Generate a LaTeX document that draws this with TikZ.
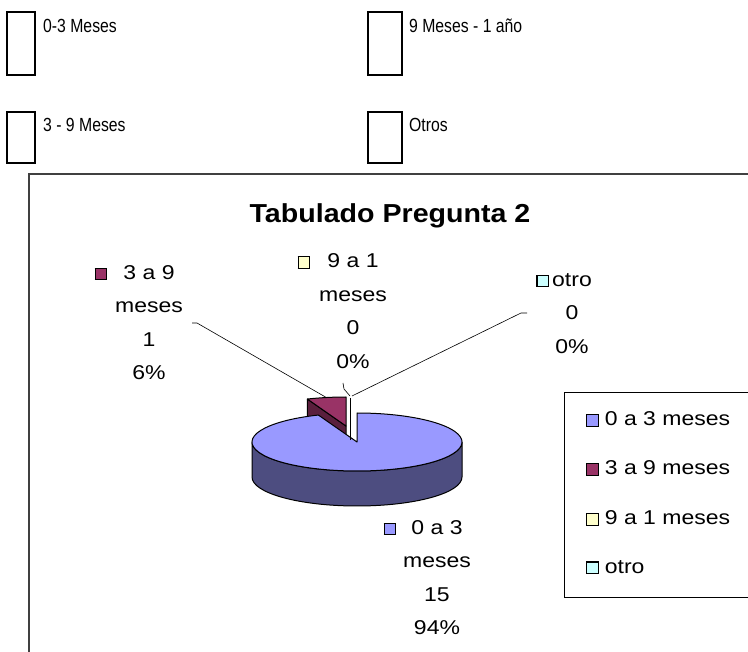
\documentclass[tikz,border=0pt]{standalone}
\usepackage{fontspec}
\setmainfont{Liberation Sans}
\newfontfamily\letraarriba[FakeStretch=0.83]{Liberation Sans}
\newfontfamily\letradato[FakeStretch=1.15]{Liberation Sans}
\newfontfamily\letratitulo[FakeStretch=1.1]{Liberation Sans}

\definecolor{azul}{HTML}{9999FF}
\definecolor{azulosc}{HTML}{4D4D80}
\definecolor{vino}{HTML}{993366}
\definecolor{vinoosc}{HTML}{5A1F3D}
\definecolor{crema}{HTML}{FFFFCC}
\definecolor{celeste}{HTML}{CCFFFF}
\definecolor{marco}{HTML}{404040}

\newcommand{\cuadro}[1]{{\setlength{\fboxsep}{0pt}\setlength{\fboxrule}{1.1pt}%
  \fcolorbox{black}{#1}{\rule{0pt}{10.5pt}\hspace{10.5pt}}}}

\begin{document}
\begin{tikzpicture}[x=1pt, y=-1pt,
    caja/.style={draw, line width=1.6pt},
    arriba/.style={anchor=base west, inner sep=0pt, font=\letraarriba\fontsize{19}{21}\selectfont},
    dato/.style={align=center, inner sep=0pt, font=\letradato\fontsize{20}{33.5}\selectfont},
    leyenda/.style={anchor=base west, inner sep=0pt, font=\letradato\fontsize{20}{24}\selectfont},
    guia/.style={line width=0.6pt},
    tajada/.style={line width=1pt, line join=round}]
  \useasboundingbox (0,0) rectangle (748,652);

  % casillas de arriba
  \draw[caja] (7,12) rectangle (35,75);
  \draw[caja] (368,12) rectangle (402,75);
  \draw[caja] (7,112) rectangle (35,163);
  \draw[caja] (368,112) rectangle (402,163);
  \node[arriba] (op1) at (43,33) {0-3 Meses};
  \node[arriba] (op3) at (409,33) {9 Meses - 1 año};
  \node[arriba] (op2) at (43,132) {3 - 9 Meses};
  \node[arriba] (op4) at (409,132) {Otros};

  % marco del grafico y de la leyenda
  \begin{scope}
    \clip (0,0) rectangle (748,652);
    \draw[marco, line width=1.4pt] (29,680) -- (29,174) -- (780,174);
    \draw[line width=0.8pt] (780,392) -- (564,392) -- (564,597) -- (780,597);
  \end{scope}

  \node[font=\letratitulo\fontsize{26}{30}\selectfont\bfseries, anchor=base] (titulo) at (390,223) {Tabulado Pregunta 2};

  % torta
  \begin{scope}[shift={(357,442)}, x=1pt, y=1pt]
    \filldraw[tajada, fill=azulosc] (180:105 and 29) -- ++(0,-35)
      arc[start angle=180, end angle=360, x radius=105, y radius=29] -- ++(0,35)
      arc[start angle=360, end angle=180, x radius=105, y radius=29] -- cycle;
    \begin{scope}[shift={(-11,16)}]
      \filldraw[tajada, fill=vinoosc] (0,0) -- (111.6:105 and 29) -- ++(0,-35) -- (0,-35) -- cycle;
      \filldraw[tajada, fill=vino] (0,0) -- (90:105 and 29)
        arc[start angle=90, end angle=111.6, x radius=105, y radius=29] -- cycle;
      \coordinate (p39) at (100.8:105 and 29);
    \end{scope}
    \filldraw[tajada, fill=azul] (0,0) -- (111.6:105 and 29)
      arc[start angle=111.6, end angle=450, x radius=105, y radius=29] -- cycle;
    \draw[tajada] (-7,44) -- (-7,2);
    \coordinate (p91) at (-7,46);
    \coordinate (pot) at (-5,46);
  \end{scope}

  % rotulos de datos
  \node[dato] (d39) at (149,322.5) {\llap{\cuadro{vino}\hspace{16pt}}3 a 9\\meses\\1\\6\%};
  \node[dato] (d91) at (353,311) {\llap{\cuadro{crema}\hspace{17pt}}9 a 1\\meses\\0\\0\%};
  \node[dato] (dot) at (572,313.5) {\llap{\cuadro{celeste}\hspace{3pt}}otro\\0\\0\%};
  \node[dato] (d03) at (437,577.5) {\llap{\cuadro{azul}\hspace{15pt}}0 a 3\\meses\\15\\94\%};

  % lineas guia
  \coordinate (t39) at (192,323);
  \coordinate (t91) at (343,383);
  \coordinate (tot) at (527,313);
  \draw[guia] (t39) -- ++(5,0) -- (p39);
  \draw[guia] (t91) -- ++(1,6) -- (p91);
  \draw[guia] (tot) -- ++(-6,0) -- (pot);

  % leyenda
  \node[leyenda] (l03) at (586,426) {\cuadro{azul}\hspace{6pt}0 a 3 meses};
  \node[leyenda] (l39) at (586,475) {\cuadro{vino}\hspace{6pt}3 a 9 meses};
  \node[leyenda] (l91) at (586,525) {\cuadro{crema}\hspace{6pt}9 a 1 meses};
  \node[leyenda] (lot) at (586,573) {\cuadro{celeste}\hspace{6pt}otro};
\end{tikzpicture}
\end{document}
